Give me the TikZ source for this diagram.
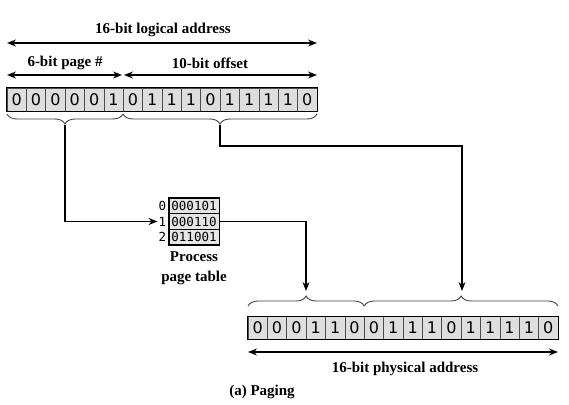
\documentclass[tikz,border=0pt]{standalone}
\usepackage{fontspec}
\setmainfont{Liberation Serif}
\newfontfamily\cellfont{DejaVu Sans}
\newfontfamily\tabfont{DejaVu Sans Mono}
\usetikzlibrary{arrows.meta,decorations.pathreplacing,calc}
\begin{document}
\begin{tikzpicture}[x=1pt,y=-1pt,
  lbl/.style={font=\bfseries\fontsize{15}{17}\selectfont,inner sep=0pt},
  bitcell/.style={draw=black!70,fill=black!13,line width=0.6pt,minimum width=19.375pt,minimum height=23pt,inner sep=0pt,font=\cellfont\fontsize{16}{18}\selectfont,anchor=center},
  tabcell/.style={draw=black,fill=black!10,line width=0.6pt,minimum width=50pt,minimum height=15.5pt,inner sep=0pt,font=\tabfont\fontsize{12.5}{14}\selectfont},
  dimarr/.style={{Stealth[length=9pt,width=7pt]}-{Stealth[length=9pt,width=7pt]},line width=1.3pt},
  conn/.style={-{Stealth[length=9pt,width=7pt]},line width=1.3pt},
  brc/.style={decorate,decoration={brace,amplitude=10pt,aspect=#1},line width=0.9pt,black!75},
  brc/.default=0.5]
\useasboundingbox (0,0) rectangle (569,404);
% top register
\foreach \b [count=\i from 0] in {0,0,0,0,0,1,0,1,1,1,0,1,1,1,1,0}{
  \node[bitcell] (t\i) at (7+19.375*\i+9.6875,99.5) {\b};
}
\draw[line width=1pt] (t0.north west) rectangle (t15.south east);
% bottom register
\foreach \b [count=\i from 0] in {0,0,0,1,1,0,0,1,1,1,0,1,1,1,1,0}{
  \node[bitcell] (p\i) at (248+19.375*\i+9.6875,328) {\b};
}
\draw[line width=1pt] (p0.north west) rectangle (p15.south east);
% dimension arrows top
\coordinate (la) at (7,43);
\coordinate (lb) at (317,43);
\draw[dimarr] (la) -- (lb);
\node[lbl] (tl) at (163,30) {16-bit logical address};
\coordinate (pa) at (7,75);
\coordinate (pb) at (122,75);
\coordinate (oa) at (124,75);
\coordinate (ob) at (317,75);
\draw[dimarr] (pa) -- (pb);
\draw[dimarr] (oa) -- (ob);
\node[lbl] (pl) at (65,63) {6-bit page \#};
\node[lbl] (ol) at (210,63) {10-bit offset};
% braces below top register
\coordinate (b1a) at (7,114);
\coordinate (b1b) at (123,114);
\coordinate (b2a) at (123,114);
\coordinate (b2b) at (317,114);
\draw[brc=0.5] (b1b) -- (b1a);
\draw[brc=0.5] (b2b) -- (b2a);
\coordinate (b1t) at (65,125);
\coordinate (b2t) at (220,125);
% page table
\node[tabcell] (r0) at (194,206) {000101};
\node[tabcell] (r1) at (194,221.5) {000110};
\node[tabcell] (r2) at (194,237) {011001};
\draw[line width=1.2pt] (r0.north west) rectangle (r2.south east);
\node[font=\tabfont\fontsize{12.5}{14}\selectfont,inner sep=0pt] (i0) at (162.5,206) {0};
\node[font=\tabfont\fontsize{12.5}{14}\selectfont,inner sep=0pt] (i1) at (162.5,221.5) {1};
\node[font=\tabfont\fontsize{12.5}{14}\selectfont,inner sep=0pt] (i2) at (162.5,237) {2};
\node[lbl,align=center] (ptl) at (194,268) {Process\\[3pt]page table};
% connectors
\coordinate (c1) at (65,221.5);
\draw[conn] (b1t) -- (c1) -- ([xshift=-1pt]i1.west);
\coordinate (c2) at (306,221.5);
\coordinate (q1) at (306,291);
\draw[conn] (r1.east) -- (c2) -- (q1);
\coordinate (c3) at (220,146);
\coordinate (c4) at (462,146);
\coordinate (q2) at (462,291);
\draw[conn] (b2t) -- (c3) -- (c4) -- (q2);
% braces above bottom register
\coordinate (d1a) at (248,306);
\coordinate (d1b) at (364.25,306);
\coordinate (d2b) at (558,306);
\draw[brc=0.5] (d1a) -- (d1b);
\draw[brc=0.5] (d1b) -- (d2b);
% bottom dimension arrow
\coordinate (ya) at (248,352);
\coordinate (yb) at (558,352);
\draw[dimarr] (ya) -- (yb);
\node[lbl] (phl) at (405,369) {16-bit physical address};
\node[lbl] (cap) at (262,392) {(a) Paging};
\end{tikzpicture}
\end{document}
